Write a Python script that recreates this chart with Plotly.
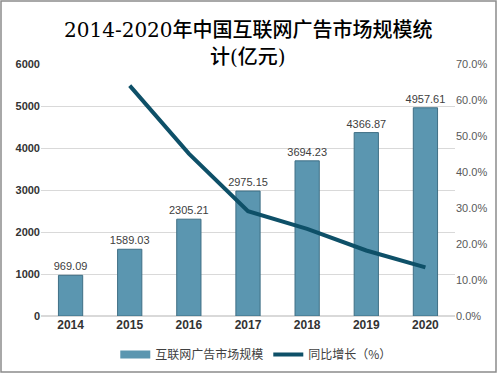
import plotly.graph_objects as go

years = ["2014", "2015", "2016", "2017", "2018", "2019", "2020"]
market = [969.09, 1589.03, 2305.21, 2975.15, 3694.23, 4366.87, 4957.61]
growth = [None, 64.0, 45.1, 29.1, 24.2, 18.2, 13.5]
left_ticks = [0, 1000, 2000, 3000, 4000, 5000, 6000]
right_ticks = [0, 10, 20, 30, 40, 50, 60, 70]
title_lines = ["2014-2020年中国互联网广告市场规模统", "计(亿元)"]
bar_name = "互联网广告市场规模"
line_name = "同比增长（%）"

bar_color = "#5b96b0"

fig = go.Figure()
fig.add_trace(go.Bar(
    x=years, y=market, name=bar_name, showlegend=False,
    marker=dict(color=bar_color, line=dict(color="#3f6f85", width=1)),
    width=0.41,
    text=[f"{v:.2f}" for v in market], textposition="outside",
    textfont=dict(size=11, color="#404040", family="Liberation Sans, Arial"),
    constraintext="none",
    cliponaxis=False,
))
# legend proxy for the bar series (wide rectangle swatch)
fig.add_trace(go.Scatter(
    x=[None], y=[None], name=bar_name, mode="lines",
    line=dict(color=bar_color, width=8),
))
fig.add_trace(go.Scatter(
    x=years, y=growth, name=line_name, yaxis="y2",
    mode="lines", line=dict(color="#0e5068", width=4),
))

title_font = dict(size=20, color="#000000", family="DejaVu Serif, Noto Sans CJK SC", weight=500)
annotations = [
    dict(text=title_lines[0], xref="paper", yref="paper", x=0.5, y=1 + 34 / 252,
         xanchor="center", yanchor="middle", showarrow=False, font=title_font),
    dict(text=title_lines[1], xref="paper", yref="paper", x=0.5, y=1 + 7 / 252,
         xanchor="center", yanchor="middle", showarrow=False, font=title_font),
]

fig.update_layout(
    width=499, height=375,
    margin=dict(l=41, r=44, t=64, b=59, autoexpand=False),
    paper_bgcolor="white", plot_bgcolor="white",
    annotations=annotations,
    xaxis=dict(
        tickfont=dict(size=12, color="#333333", family="Liberation Sans, Arial", weight="bold"),
        showgrid=False, showline=False, ticks="",
    ),
    yaxis=dict(
        range=[0, 6000], tickvals=left_ticks, ticktext=[str(v) for v in left_ticks],
        tickfont=dict(size=11, color="#333333", family="Liberation Sans, Arial", weight="bold"),
        gridcolor="#d9d9d9", gridwidth=1, zeroline=True, zerolinecolor="#d9d9d9",
        showline=False, ticks="",
    ),
    yaxis2=dict(
        overlaying="y", side="right",
        range=[0, 70], tickvals=right_ticks,
        ticktext=[f"{v:.1f}%" for v in right_ticks],
        tickfont=dict(size=11, color="#595959", family="Liberation Sans, Arial"),
        showgrid=False, zeroline=False, showline=False, ticks="",
    ),
    legend=dict(
        orientation="h", x=0.52, xanchor="center", y=-0.095, yanchor="top",
        font=dict(size=12, color="#404040", family="Noto Sans CJK SC"),
        itemwidth=30,
    ),
    shapes=[dict(type="rect", xref="paper", yref="paper",
                 x0=-40/414, x1=1+41/414, y0=-56/252, y1=1+63/252,
                 line=dict(color="#8c8c8c", width=1.5), fillcolor="rgba(0,0,0,0)")],
)

fig.write_html("out.html", config={"displayModeBar": False},
               post_script="document.body.style.margin='0';")
